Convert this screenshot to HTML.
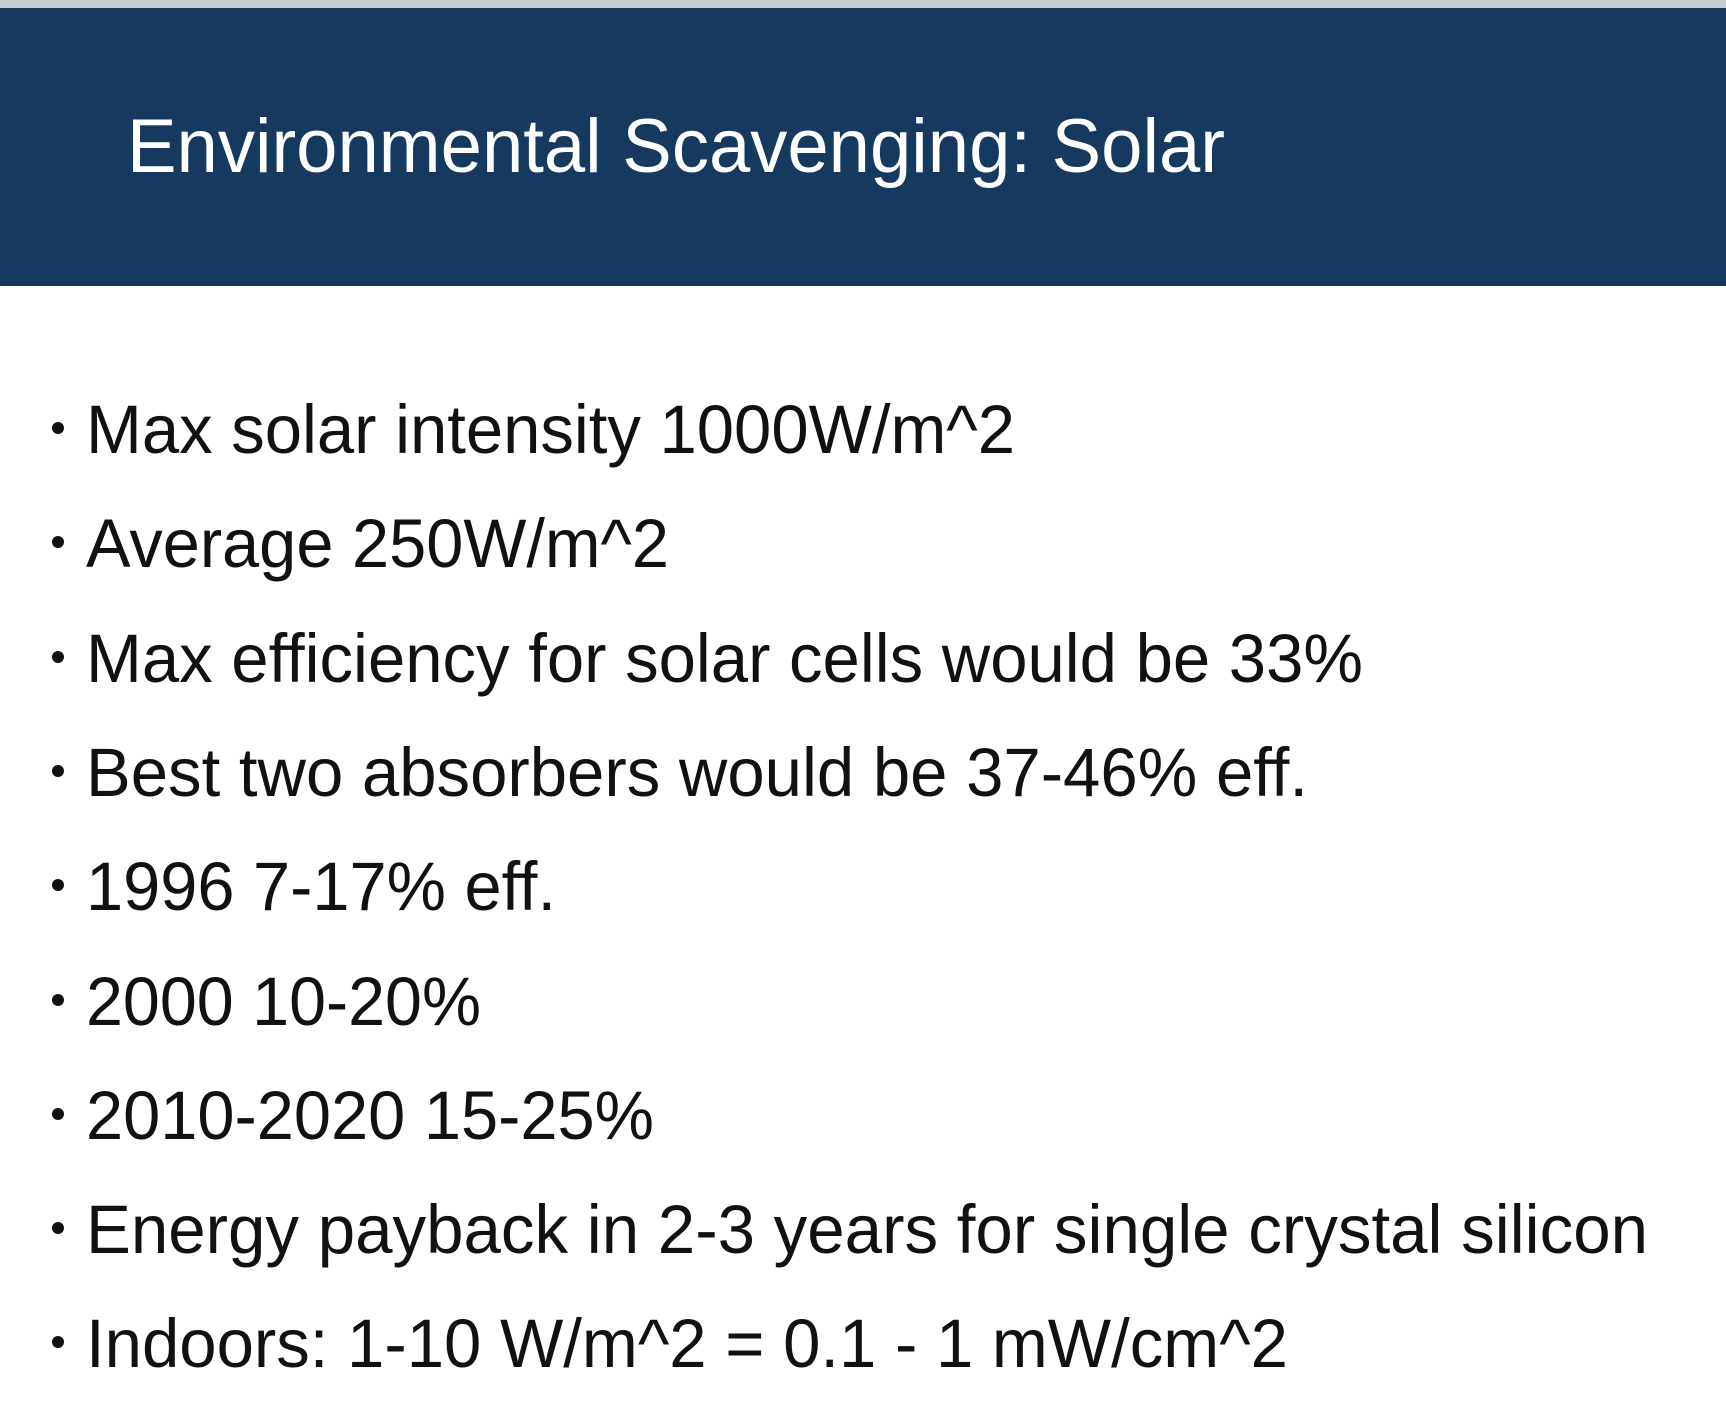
<!DOCTYPE html>
<html><head><meta charset="utf-8"><style>
html,body{margin:0;padding:0;background:#fff;}
svg{display:block;}
text{font-family:"Liberation Sans",Arial,sans-serif;}
</style></head><body>
<svg width="1726" height="1420" viewBox="0 0 1726 1420">
<rect x="0" y="0" width="1726" height="1420" fill="#ffffff"/>
<rect x="0" y="0" width="1726" height="8" fill="#c9ced6"/>
<rect x="0" y="8" width="1726" height="278" fill="#163a5f"/>
<text x="127" y="172" font-size="76" fill="#ffffff" textLength="1098" lengthAdjust="spacingAndGlyphs">Environmental Scavenging: Solar</text>
<g id="bullets" fill="#111">
<circle cx="58" cy="428" r="6"/>
<text x="86" y="453" font-size="69" textLength="929" lengthAdjust="spacingAndGlyphs">Max solar intensity 1000W/m^2</text>
<circle cx="58" cy="542" r="6"/>
<text x="86" y="567" font-size="69" textLength="583" lengthAdjust="spacingAndGlyphs">Average 250W/m^2</text>
<circle cx="58" cy="657" r="6"/>
<text x="86" y="682" font-size="69" textLength="1277" lengthAdjust="spacingAndGlyphs">Max efficiency for solar cells would be 33%</text>
<circle cx="58" cy="771" r="6"/>
<text x="86" y="796" font-size="69" textLength="1222" lengthAdjust="spacingAndGlyphs">Best two absorbers would be 37-46% eff.</text>
<circle cx="58" cy="885" r="6"/>
<text x="86" y="910" font-size="69" textLength="470" lengthAdjust="spacingAndGlyphs">1996 7-17% eff.</text>
<circle cx="58" cy="1000" r="6"/>
<text x="86" y="1025" font-size="69" textLength="395" lengthAdjust="spacingAndGlyphs">2000 10-20%</text>
<circle cx="58" cy="1114" r="6"/>
<text x="86" y="1139" font-size="69" textLength="568" lengthAdjust="spacingAndGlyphs">2010-2020 15-25%</text>
<circle cx="58" cy="1228" r="6"/>
<text x="86" y="1253" font-size="69" textLength="1562" lengthAdjust="spacingAndGlyphs">Energy payback in 2-3 years for single crystal silicon</text>
<circle cx="58" cy="1342" r="6"/>
<text x="86" y="1367" font-size="69" textLength="1202" lengthAdjust="spacingAndGlyphs">Indoors: 1-10 W/m^2 = 0.1 - 1 mW/cm^2</text>
</g>
</svg>
</body></html>
